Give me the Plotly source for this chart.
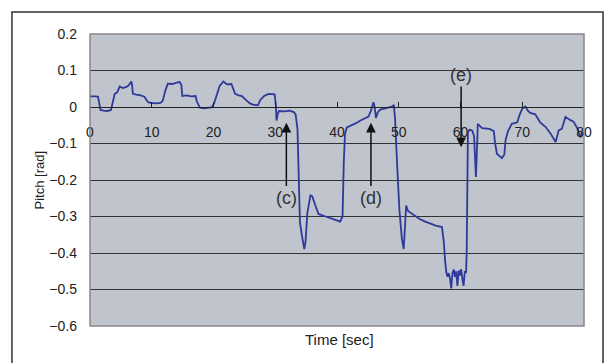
import plotly.graph_objects as go

time_sec = [0.0, 0.5, 1.0, 1.3, 1.5, 1.7, 2.2, 2.8, 3.4, 3.6, 4.0, 4.4, 4.8, 5.3, 5.9, 6.3, 6.7, 6.8, 6.95,
            7.5, 8.2, 8.8, 9.4, 10.0, 10.8, 11.5, 11.8, 12.2, 12.6, 13.3, 14.0, 14.5, 14.8, 14.95, 15.6, 16.4,
            17.1, 17.3, 17.8, 18.5, 19.2, 19.7, 20.1, 20.5, 21.0, 21.6, 22.2, 22.9, 23.2, 23.5, 24.1, 24.6,
            25.2, 25.9, 26.5, 27.2, 27.6, 28.2, 28.9, 29.5, 29.9, 30.1, 30.2, 30.4, 30.6, 31.5, 32.3, 33.0,
            33.3, 33.6, 33.8, 34.0, 34.3, 34.7, 34.9, 35.2, 35.7, 36.0, 36.5, 37.0, 37.8, 38.6, 39.5, 40.5,
            40.9, 41.1, 41.3, 41.6, 42.2, 43.0, 43.8, 44.5, 45.1, 45.5, 45.9, 46.1, 46.3, 46.6, 47.0, 48.0,
            49.0, 49.2, 49.4, 49.7, 50.1, 50.5, 50.8, 51.0, 51.2, 51.5, 51.9, 52.7, 53.5, 54.3, 55.1, 56.0,
            57.0, 57.3, 57.5, 57.7, 57.9, 58.1, 58.3, 58.5, 58.7, 58.9, 59.1, 59.3, 59.5, 59.7, 59.9, 60.1,
            60.3, 60.5, 60.7, 60.9, 61.0, 61.1, 61.2, 61.5, 61.9, 62.2, 62.5, 62.7, 62.8, 63.5, 64.1, 64.7,
            65.4, 65.6, 65.9, 66.3, 66.7, 67.1, 67.3, 67.7, 68.3, 69.2, 69.6, 70.0, 70.5, 70.9, 71.3, 72.1,
            72.9, 73.8, 74.6, 75.4, 75.6, 75.9, 76.4, 76.7, 77.0, 77.8, 78.3, 78.9, 79.4, 79.7, 80.0]

pitch_rad = [0.029, 0.030, 0.029, 0.028, 0.010, -0.008, -0.010, -0.011, -0.008, 0.010, 0.036, 0.040, 0.056,
             0.052, 0.055, 0.060, 0.070, 0.062, 0.036, 0.034, 0.032, 0.028, 0.013, 0.011, 0.010, 0.012, 0.018,
             0.045, 0.064, 0.063, 0.066, 0.069, 0.060, 0.030, 0.032, 0.029, 0.030, 0.015, -0.002, -0.004,
             -0.002, -0.001, 0.010, 0.030, 0.058, 0.070, 0.062, 0.063, 0.050, 0.036, 0.032, 0.030, 0.020,
             0.010, 0.006, 0.005, 0.020, 0.030, 0.036, 0.036, 0.035, 0.005, -0.037, -0.020, -0.011, -0.012,
             -0.010, -0.014, -0.020, -0.060, -0.200, -0.316, -0.350, -0.389, -0.370, -0.290, -0.242, -0.245,
             -0.270, -0.293, -0.298, -0.302, -0.308, -0.314, -0.300, -0.150, -0.073, -0.056, -0.052, -0.045,
             -0.037, -0.032, -0.026, -0.010, 0.013, 0.000, -0.030, -0.015, -0.007, -0.003, 0.002, 0.006,
             -0.032, -0.144, -0.281, -0.360, -0.389, -0.330, -0.270, -0.285, -0.290, -0.300, -0.308, -0.314,
             -0.320, -0.325, -0.329, -0.370, -0.420, -0.453, -0.465, -0.455, -0.470, -0.497, -0.455, -0.445,
             -0.465, -0.450, -0.490, -0.448, -0.462, -0.444, -0.470, -0.490, -0.450, -0.455, -0.400, -0.150,
             -0.069, -0.062, -0.065, -0.080, -0.192, -0.100, -0.046, -0.058, -0.060, -0.060, -0.066, -0.100,
             -0.128, -0.135, -0.140, -0.130, -0.090, -0.066, -0.046, -0.042, -0.020, -0.005, 0.001, -0.010,
             -0.016, -0.020, -0.042, -0.055, -0.073, -0.096, -0.080, -0.064, -0.060, -0.040, -0.027, -0.036,
             -0.040, -0.058, -0.083, -0.070, -0.075]

x_ticks = [0, 10, 20, 30, 40, 50, 60, 70, 80]
y_ticks = [0.2, 0.1, 0, -0.1, -0.2, -0.3, -0.4, -0.5, -0.6]

# annotation labels: (text, x, arrow-tip y, label y)
marks = [("(c)", 31.8, -0.043, -0.248),
         ("(d)", 45.5, -0.043, -0.248),
         ("(e)", 60.1, -0.110, 0.088)]

FONT = "Liberation Sans, Arial, sans-serif"

fig = go.Figure()
fig.add_trace(go.Scatter(x=time_sec, y=pitch_rad, mode="lines",
                         line=dict(color="#2E3A9A", width=1.8), hoverinfo="skip"))

fig.update_layout(
    width=604, height=363,
    margin=dict(l=90, r=20, t=34, b=37),
    paper_bgcolor="white",
    plot_bgcolor="#C0C4CC",
    showlegend=False,
    font=dict(family=FONT, size=13, color="#222"),
    xaxis=dict(range=[0, 80], tickvals=x_ticks, showgrid=False, zeroline=False,
               anchor="free", position=0.75, showline=True, linecolor="#222", linewidth=1,
               ticks="inside", ticklen=5, tickcolor="#222", ticklabelstandoff=12,
               tickfont=dict(size=14)),
    yaxis=dict(range=[-0.6, 0.2], tickvals=y_ticks, tickformat=".1~f",
               showgrid=True, gridcolor="#333", gridwidth=1, zeroline=False,
               showline=False, ticks="", ticklabelstandoff=12, tickfont=dict(size=14)),
)

# plot-area frame and outer chart border
fig.add_shape(type="rect", xref="paper", yref="paper", x0=0, y0=0, x1=1, y1=1,
              line=dict(color="#888", width=1.5))
fig.add_shape(type="rect", xref="paper", yref="paper", x0=-0.158, y0=-0.14, x1=1.0385, y1=1.0753,
              line=dict(color="#333", width=1.5))

for text, xv, tip, lab in marks:
    fig.add_annotation(x=xv, y=tip, ax=xv, ay=lab, xref="x", yref="y", axref="x", ayref="y",
                       text=text, showarrow=True, arrowhead=2, arrowsize=1.3, arrowwidth=1.5,
                       arrowcolor="#111", font=dict(size=18, color="#333", family=FONT))

fig.add_annotation(x=0.506, y=-0.082, xref="paper", yref="paper", text="Time [sec]",
                   showarrow=False, font=dict(size=15, color="#222", family=FONT))
fig.add_annotation(x=-0.1215, y=0.5, xref="paper", yref="paper", text="Pitch [rad]",
                   textangle=-90, showarrow=False, font=dict(size=13, color="#222", family=FONT))

fig.write_html("out.html")
